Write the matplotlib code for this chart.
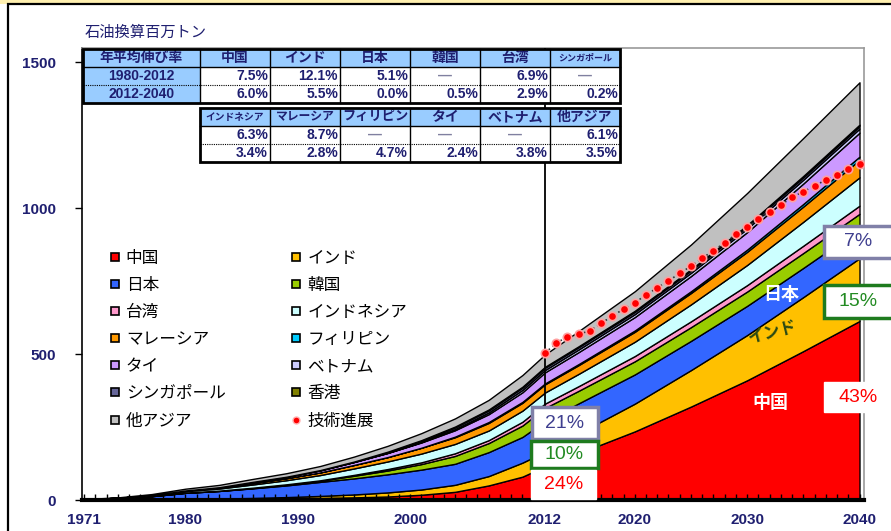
import matplotlib
matplotlib.use("Agg")
import matplotlib.pyplot as plt
from matplotlib.patches import Rectangle
from matplotlib.lines import Line2D

plt.rcParams['font.family'] = ['Liberation Sans', 'Noto Sans CJK JP']

# ---- data (Mtoe) ----
years = [1971, 1974, 1977, 1980, 1983, 1986, 1989, 1992, 1995, 1998, 2001,
         2004, 2007, 2010, 2012, 2015, 2020, 2025, 2030, 2035, 2040]

china = [1, 2, 3, 4, 4, 5, 6, 7, 9, 12, 18, 28, 50, 80, 115, 160, 235, 320, 410, 510, 613]
india = [0, 0, 0, 0.5, 1, 2, 4, 7, 10, 14, 18, 24, 32, 48, 50, 68, 95, 125, 155, 185, 215]
japan = [1, 4, 10, 20, 26, 33, 40, 48, 55, 62, 68, 72, 82, 88, 105, 103, 100, 100, 100, 100, 100]
korea = [0, 0, 0, 0, 0, 1, 2.5, 4, 9, 13, 19, 27, 31, 39, 45, 43, 45, 47, 49, 51, 52]
taiwan = [0.3, 0.5, 0.8, 1.2, 1.2, 1.2, 1.3, 1.5, 3, 5, 6, 9, 10, 13, 15, 16, 18, 20, 22, 25, 28]
indonesia = [0.5, 1, 2, 5, 7, 11, 14, 18, 22, 26, 30, 32, 33, 38, 38, 42, 49, 58, 69, 82, 97]
malaysia = [0, 0, 0.5, 2, 3, 5, 7, 9, 12, 15, 20, 23, 26, 27, 28, 30, 34, 39, 45, 52, 60]
philippines = [0, 0, 0, 0, 0, 0, 0, 0, 0, 0, 0, 2, 3, 3, 3, 3.5, 4.5, 6, 7.5, 9, 11]
thailand = [0, 0, 0, 0, 1.5, 4, 5, 7, 10, 14, 18, 22, 27, 33, 38, 41, 46, 52, 60, 70, 82]
vietnam = [0, 0, 0, 0, 0, 0, 0, 0, 0.1, 0.5, 1.5, 4, 6, 8, 8, 9, 10, 11, 12, 13, 14]
singapore = [0, 0, 0, 0, 0, 0, 0, 1, 1.5, 2, 4, 6, 7, 8, 8, 8, 8, 8, 8, 8.5, 8.5]
hongkong = [0, 0, 0, 0, 0, 0, 0, 0, 0, 2, 2.5, 2.5, 3, 3, 3, 3, 3.5, 4, 4, 4.5, 5]
other_asia = [0.5, 1.5, 4, 6, 8, 10, 12, 14, 17, 20, 24, 28, 33, 40, 42, 52, 67, 85, 110, 130, 145]

tech_years = list(range(2012, 2041))
tech_case = [503, 537, 559, 567, 580, 605, 630, 654, 676, 702, 727, 751, 776, 801,
             828, 854, 881, 910, 936, 961, 986, 1010, 1037, 1056, 1076, 1096,
             1114, 1134, 1151]

names = ['中国', 'インド', '日本', '韓国', '台湾', 'インドネシア', 'マレーシア',
         'フィリピン', 'タイ', 'ベトナム', 'シンガポール', '香港', '他アジア']
colors = ['#FF0000', '#FFC000', '#3366FF', '#99CC00', '#FF99CC', '#CCFFFF', '#FF9900',
          '#00CCFF', '#CC99FF', '#CCCCFF', '#666699', '#808000', '#C0C0C0']
series = [china, india, japan, korea, taiwan, indonesia, malaysia,
          philippines, thailand, vietnam, singapore, hongkong, other_asia]

# growth-rate tables
table1_head = ['年平均伸び率', '中国', 'インド', '日本', '韓国', '台湾', 'シンガポール']
table1_rows = [['1980-2012', '7.5%', '12.1%', '5.1%', '—', '6.9%', '—'],
               ['2012-2040', '6.0%', '5.5%', '0.0%', '0.5%', '2.9%', '0.2%']]
table2_head = ['インドネシア', 'マレーシア', 'フィリピン', 'タイ', 'ベトナム', '他アジア']
table2_rows = [['6.3%', '8.7%', '—', '—', '—', '6.1%'],
               ['3.4%', '2.8%', '4.7%', '2.4%', '3.8%', '3.5%']]

xtick_years = [1971, 1980, 1990, 2000, 2012, 2020, 2030, 2040]

navy = '#1F1F70'
W, H = 891, 531
head_sizes = {'年平均伸び率': 10, 'シンガポール': 6.5, 'インドネシア': 7,
              'マレーシア': 8.5, 'フィリピン': 9.5}


def fx(px):
    return px / W


def fy(py):
    return 1 - py / H


fig = plt.figure(figsize=(W / 100, H / 100), dpi=100)

# outer frame
fig.add_artist(Rectangle((0, fy(3.5)), 1, 3.5 / H, transform=fig.transFigure,
                         facecolor='#FFF0B0', edgecolor='none'))
fig.add_artist(Rectangle((fx(7.5), -0.05), 1.2, fy(4) + 0.05, transform=fig.transFigure,
                         facecolor='none', edgecolor='black', lw=1.6))

ax = fig.add_axes([fx(82), fy(500), (864 - 82) / W, (500 - 48) / H])
ax.stackplot(years, *series, colors=colors, edgecolor='black', linewidth=1.0)
ax.axvline(2012, color='black', lw=1.3, zorder=5)
ax.plot(tech_years, tech_case, ls=(0, (1, 2)), color='#333333', lw=1.2,
        marker='o', ms=6, mfc='#FF0000', mec='#FFA0A0', mew=1.2, zorder=6)

ax.set_xlim(1970.8, 2040.4)
ax.set_ylim(0, 1548)
ax.set_xticks(xtick_years)
ax.set_xticklabels([str(y) for y in xtick_years], fontweight='bold', color=navy, fontsize=11)
ax.set_xticks(range(1971, 2041), minor=True)
ax.tick_params(axis='x', which='both', direction='in', length=4, width=1, pad=9)
ax.set_yticks([0, 500, 1000, 1500])
ax.set_yticklabels(['0', '500', '1000', '1500'], fontweight='bold', color=navy, fontsize=11)
ax.tick_params(axis='y', direction='out', length=5, width=1, pad=14)

for s in ['top', 'right']:
    ax.spines[s].set_color('#999999')
    ax.spines[s].set_linewidth(1.2)
ax.spines['left'].set_linewidth(1.2)
ax.spines['bottom'].set_linewidth(3)

fig.text(fx(85), fy(33), '石油換算百万トン', color=navy, fontsize=11, va='center', ha='left')


# ---- tables ----
def draw_table(x_edges, y_edges, head, rows, first_col_blue):
    blue = '#99CCFF'
    ncol = len(x_edges) - 1
    for r in range(len(y_edges) - 1):
        for c in range(ncol):
            x0, x1 = x_edges[c], x_edges[c + 1]
            y0, y1 = y_edges[r], y_edges[r + 1]
            yc = (y0 + y1) / 2
            bg = blue if (r == 0 or (first_col_blue and c == 0)) else 'white'
            fig.add_artist(Rectangle((fx(x0), fy(y1)), fx(x1) - fx(x0), fy(y0) - fy(y1),
                                     transform=fig.transFigure, facecolor=bg,
                                     edgecolor='none', zorder=10))
            if r == 0:
                txt = head[c]
                fig.text(fx((x0 + x1) / 2), fy(yc), txt, ha='center', va='center',
                         fontsize=head_sizes.get(txt, 10), fontweight='bold',
                         color=navy, zorder=12)
            else:
                txt = rows[r - 1][c]
                if txt == '—':
                    fig.text(fx((x0 + x1) / 2), fy(yc), txt, ha='center', va='center',
                             fontsize=10, fontweight='bold', color='#8080A0', zorder=12)
                elif first_col_blue and c == 0:
                    fig.text(fx((x0 + x1) / 2), fy(yc), txt, ha='center', va='center',
                             fontsize=10, fontweight='bold', color=navy, zorder=12)
                else:
                    fig.text(fx(x1 - 2), fy(yc), txt, ha='right', va='center',
                             fontsize=10, fontweight='bold', color=navy, zorder=12)
    top, bot = y_edges[0], y_edges[-1]
    for xe in x_edges[1:-1]:
        fig.add_artist(Line2D([fx(xe), fx(xe)], [fy(top), fy(bot)], transform=fig.transFigure,
                              color='black', lw=1.0, zorder=11))
    fig.add_artist(Line2D([fx(x_edges[0]), fx(x_edges[-1])], [fy(y_edges[1])] * 2,
                          transform=fig.transFigure, color='black', lw=1.0, zorder=11))
    for ye in y_edges[2:-1]:
        fig.add_artist(Line2D([fx(x_edges[0]), fx(x_edges[-1])], [fy(ye)] * 2,
                              transform=fig.transFigure, color='black', lw=0.8,
                              ls=(0, (1, 1)), zorder=11))
    fig.add_artist(Rectangle((fx(x_edges[0]), fy(bot)), fx(x_edges[-1]) - fx(x_edges[0]),
                             fy(top) - fy(bot), transform=fig.transFigure, facecolor='none',
                             edgecolor='black', lw=2, zorder=13))


draw_table([83, 200, 270, 340, 410, 480, 550, 620], [49, 67, 85, 103],
           table1_head, table1_rows, True)
draw_table([200, 270, 340, 410, 480, 550, 620], [108, 126, 144, 162],
           table2_head, table2_rows, False)

# ---- legend ----
order = [0, 2, 4, 6, 8, 10, 12, 1, 3, 5, 7, 9, 11]
handles, labels = [], []
for i in order:
    handles.append(Line2D([], [], ls='', marker='s', ms=6, mfc=colors[i], mec='black', mew=1.2))
    labels.append(names[i])
handles.append(Line2D([], [], ls='', marker='o', ms=5, mfc='#FF0000', mec='#FFB0B0', mew=1))
labels.append('技術進展')
ax.legend(handles, labels, ncol=2, loc='upper left', bbox_to_anchor=(fx(110), fy(251)),
          bbox_transform=fig.transFigure, frameon=False, fontsize=12, handlelength=0.6,
          handletextpad=0.35, labelspacing=0.72, columnspacing=3.95, borderpad=0,
          borderaxespad=0)


# ---- share boxes ----
def share_box(x0, y0, x1, y1, text, tcolor, ecolor, lw):
    fig.add_artist(Rectangle((fx(x0), fy(y1)), fx(x1) - fx(x0), fy(y0) - fy(y1),
                             transform=fig.transFigure, facecolor='white', edgecolor=ecolor,
                             lw=lw, zorder=14))
    fig.text(fx((x0 + x1) / 2), fy((y0 + y1) / 2), text, ha='center', va='center',
             fontsize=14, color=tcolor, zorder=15)


share_box(532, 407, 598, 439, '21%', '#3F3F8F', '#8080A8', 2.5)
share_box(531, 441, 598, 468, '10%', '#228B22', '#1E7B1E', 2.5)
share_box(531, 470, 596, 499, '24%', '#FF0000', 'white', 1)
share_box(824, 226, 893, 258, '7%', '#3F3F8F', '#8080A8', 2.5)
share_box(824, 285, 893, 318, '15%', '#228B22', '#1E7B1E', 2.5)
share_box(824, 382, 893, 412, '43%', '#FF0000', 'white', 1)

fig.text(fx(781), fy(295), '日本', color='white', fontsize=13, fontweight='bold',
         ha='center', va='center', zorder=15)
fig.text(fx(773), fy(333), 'インド', color='#2B4A14', fontsize=12, fontweight='bold',
         ha='center', va='center', rotation=14, zorder=15)
fig.text(fx(770), fy(404), '中国', color='white', fontsize=13, fontweight='bold',
         ha='center', va='center', zorder=15)

fig.savefig('out.png', dpi=100)
